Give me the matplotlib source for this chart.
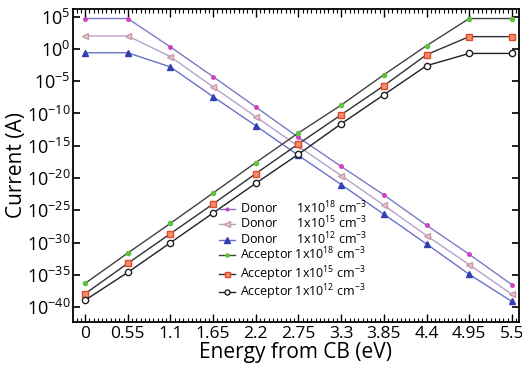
import numpy as np
import matplotlib
matplotlib.use("Agg")
import matplotlib.pyplot as plt
from matplotlib.ticker import FixedLocator, MultipleLocator

plt.rcParams['font.family'] = ['Open Sans', 'DejaVu Sans']
plt.rcParams['mathtext.fontset'] = 'custom'
plt.rcParams['mathtext.rm'] = 'Open Sans'
plt.rcParams['mathtext.it'] = 'Open Sans'

energy = [0, 0.55, 1.1, 1.65, 2.2, 2.75, 3.3, 3.85, 4.4, 4.95, 5.5]

# log10 of current (A)
donor_18 = [4.7, 4.7, 0.3, -4.3, -9.0, -13.7, -18.2, -22.6, -27.3, -31.8, -36.5]
donor_15 = [2.0, 2.0, -1.2, -5.9, -10.5, -15.1, -19.6, -24.2, -28.9, -33.4, -38.0]
donor_12 = [-0.6, -0.6, -2.8, -7.4, -11.9, -16.5, -21.0, -25.6, -30.2, -34.9, -39.1]
acc_18 = [-36.3, -31.6, -27.0, -22.3, -17.6, -13.0, -8.7, -4.0, 0.5, 4.7, 4.7]
acc_15 = [-37.9, -33.2, -28.6, -24.0, -19.3, -14.7, -10.2, -5.7, -0.9, 1.9, 1.9]
acc_12 = [-38.9, -34.6, -30.0, -25.4, -20.8, -16.3, -11.6, -7.1, -2.6, -0.7, -0.7]

xticks = [0, 0.55, 1.1, 1.65, 2.2, 2.75, 3.3, 3.85, 4.4, 4.95, 5.5]
xticklabels = ['0', '0.55', '1.1', '1.65', '2.2', '2.75', '3.3', '3.85', '4.4', '4.95', '5.5']
ytick_exp = [5, 0, -5, -10, -15, -20, -25, -30, -35, -40]

series = [
    (donor_18, 'Donor      1x10$^{18}$ cm$^{-3}$', '#7b78c8',
     dict(marker='.', ms=5, mfc='#d040c0', mec='#d040c0')),
    (donor_15, 'Donor      1x10$^{15}$ cm$^{-3}$', '#b8a0cc',
     dict(marker='<', ms=5, mfc='#e8c8d0', mec='#c89aa8')),
    (donor_12, 'Donor      1x10$^{12}$ cm$^{-3}$', '#6a70c8',
     dict(marker='^', ms=5, mfc='#3040b0', mec='#3040b0')),
    (acc_18, 'Acceptor 1x10$^{18}$ cm$^{-3}$', '#404040',
     dict(marker='.', ms=6, mfc='#60c040', mec='#60c040')),
    (acc_15, 'Acceptor 1x10$^{15}$ cm$^{-3}$', '#303030',
     dict(marker='s', ms=4.5, mfc='#f09070', mec='#e04a28')),
    (acc_12, 'Acceptor 1x10$^{12}$ cm$^{-3}$', '#202020',
     dict(marker='o', ms=4.5, mfc='white', mec='#202020')),
]

fig = plt.figure(figsize=(5.22, 3.69), dpi=100)
ax = fig.add_axes([0.14, 0.127, 0.854, 0.849])

for vals, label, color, mk in series:
    ax.plot(energy, 10.0 ** np.array(vals), color=color, lw=1.0,
            label=label, mew=1.0, **mk)

ax.set_yscale('log')
ax.set_ylim(10 ** -42.3, 10 ** 6.2)
ax.set_xlim(-0.155, 5.59)

ax.yaxis.set_major_locator(FixedLocator([10.0 ** e for e in ytick_exp]))
ax.yaxis.set_minor_locator(FixedLocator([]))
ax.set_yticklabels(['$10^{%d}$' % e for e in ytick_exp])
ax.set_xticks(xticks)
ax.set_xticklabels(xticklabels)
ax.xaxis.set_minor_locator(MultipleLocator(0.055))

ax.tick_params(axis='both', which='both', direction='in', top=True, right=True)
ax.tick_params(axis='x', which='major', length=6, width=1.0, labelsize=12.5, pad=3)
ax.tick_params(axis='x', which='minor', length=3, width=0.8)
ax.tick_params(axis='y', which='major', length=5, width=1.2, labelsize=13, pad=2)
for s in ax.spines.values():
    s.set_linewidth(1.3)

ax.set_xlabel('Energy from CB (eV)', fontsize=15, labelpad=0)
ax.set_ylabel('Current (A)', fontsize=15, labelpad=0)

ax.legend(loc='lower left', bbox_to_anchor=(0.31, 0.04), frameon=False,
          fontsize=9, handlelength=1.3, handletextpad=0.4, labelspacing=-0.1,
          borderpad=0.1, markerscale=0.8)

fig.savefig('out.png', dpi=100)
